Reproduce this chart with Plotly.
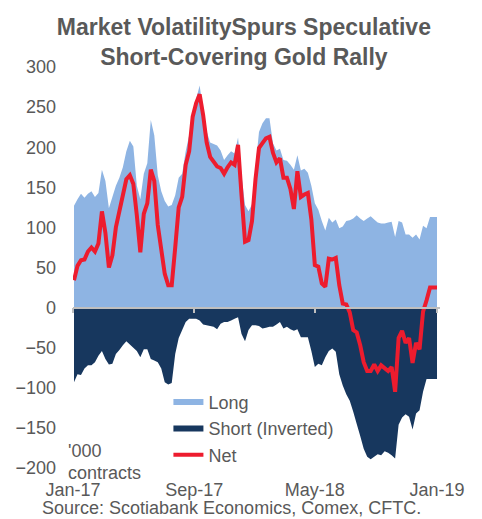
import pandas as pd
import plotly.graph_objects as go

# Weekly CFTC observations (Tuesdays), Jan-2017 .. Jan-2019
dates = pd.date_range("2017-01-03", periods=105, freq="7D")

long_pos = [127, 135, 142, 137, 142, 145, 138, 143, 172, 158,
            124, 138, 152, 162, 175, 195, 208, 201, 152, 135,
            167, 180, 234, 215, 165, 145, 133, 126, 128, 140,
            162, 167, 195, 215, 235, 260, 277, 245, 220, 206,
            204, 202, 196, 184, 190, 195, 192, 212, 165, 128,
            120, 129, 175, 219, 230, 236, 236, 205, 196, 198,
            184, 183, 178, 172, 190, 171, 173, 168, 152, 130,
            122, 108, 96, 112, 106, 110, 99, 101, 108, 109,
            111, 115, 111, 108, 111, 114, 110, 106, 105, 105,
            106, 107, 88, 108, 106, 91, 91, 87, 91, 85,
            102, 99, 113, 113, 113]

short_inv = [-93, -83, -84, -76, -72, -72, -68, -60, -54, -64,
             -71, -70, -58, -53, -47, -42, -46, -50, -54, -62,
             -52, -52, -64, -66, -68, -76, -93, -96, -94, -58,
             -38, -28, -18, -14, -14, -14, -16, -21, -22, -23,
             -24, -27, -20, -18, -18, -16, -14, -12, -33, -42,
             -28, -22, -22, -23, -26, -25, -24, -24, -21, -18,
             -26, -24, -27, -29, -27, -37, -37, -37, -54, -74,
             -70, -72, -62, -54, -51, -55, -83, -97, -108, -116,
             -130, -145, -160, -176, -186, -189, -186, -183, -184, -179,
             -181, -184, -188, -146, -137, -133, -136, -152, -132, -128,
             -105, -89, -89, -89, -89]

net_pos = [34, 52, 59, 60, 70, 75, 70, 80, 120, 93,
           50, 65, 100, 120, 142, 160, 165, 154, 115, 69,
           117, 130, 172, 158, 103, 75, 42, 28, 28, 75,
           125, 138, 178, 195, 238, 255, 266, 240, 206, 188,
           181, 176, 174, 167, 175, 181, 178, 203, 140, 82,
           84, 108, 160, 199, 205, 211, 213, 193, 181, 186,
           162, 162, 148, 123, 170, 138, 141, 143, 110, 53,
           51, 30, 26, 61, 60, 62, 28, 5, 4, -6,
           -28, -31, -47, -68, -79, -79, -71, -79, -72, -76,
           -79, -74, -105, -38, -29, -44, -38, -69, -44, -52,
           -5, 9, 25, 25, 25]

series_names = ["Long", "Short (Inverted)", "Net"]
y_ticks = [-200, -150, -100, -50, 0, 50, 100, 150, 200, 250, 300]

GRAY = "#595959"
FONT = "Liberation Sans, Arial, sans-serif"

fig = go.Figure()
fig.add_trace(go.Scatter(x=dates, y=long_pos, name=series_names[0], mode="none",
                         fill="tozeroy", fillcolor="#8EB4E3"))
fig.add_trace(go.Scatter(x=dates, y=short_inv, name=series_names[1], mode="none",
                         fill="tozeroy", fillcolor="#17375E"))
fig.add_trace(go.Scatter(x=dates, y=net_pos, name=series_names[2], mode="lines",
                         line=dict(color="#ED1C2E", width=4)))
# helper trace so the zero-crossing axis is drawn
fig.add_trace(go.Scatter(x=[], y=[], xaxis="x2", showlegend=False, hoverinfo="skip"))

xrange = ["2017-01-01", "2019-01-07"]
fig.update_layout(
    width=482, height=519,
    margin=dict(l=73, r=42, t=67, b=51),
    paper_bgcolor="white", plot_bgcolor="white",
    font=dict(family=FONT, size=18, color=GRAY),
    title=dict(text="<b>Market VolatilitySpurs Speculative<br>Short-Covering Gold Rally</b>",
               x=0.506, xanchor="center", y=1 - 35 / 519, yanchor="top",
               font=dict(size=23, color=GRAY, family=FONT)),
    xaxis=dict(range=xrange, type="date", tickformat="%b-%y", dtick="M8",
               tick0="2017-01-01", showgrid=False, zeroline=False, showline=False,
               ticks="", ticklabelstandoff=9, tickfont=dict(size=18, color=GRAY)),
    xaxis2=dict(range=xrange, type="date", overlaying="x", anchor="free", position=0.4,
                showline=True, linecolor="#BFBFBF", linewidth=1.5, ticks="outside",
                ticklen=5, tickcolor="#BFBFBF", tickwidth=1.5, dtick="M8",
                tick0="2017-01-01", showticklabels=False, showgrid=False,
                zeroline=False, layer="above traces"),
    yaxis=dict(range=[-200, 300], tickvals=y_ticks, showgrid=False, zeroline=False,
               showline=False, ticks="", ticklabelstandoff=16,
               tickfont=dict(size=18, color=GRAY)),
    legend=dict(x=0.26, y=0.21, xanchor="left", yanchor="top",
                bgcolor="rgba(0,0,0,0)", font=dict(size=18, color=GRAY),
                itemwidth=30, tracegroupgap=0),
    showlegend=True,
)
fig.add_annotation(text="'000", xref="paper", yref="paper", x=-0.019, y=0.043,
                   xanchor="left", yanchor="middle", showarrow=False,
                   font=dict(size=18, color=GRAY))
fig.add_annotation(text="contracts", xref="paper", yref="paper", x=-0.019, y=-0.012,
                   xanchor="left", yanchor="middle", showarrow=False,
                   font=dict(size=18, color=GRAY))
fig.add_annotation(text="Source: Scotiabank Economics, Comex, CFTC.", xref="paper",
                   yref="paper", x=0.432, y=-0.099, xanchor="center", yanchor="middle",
                   showarrow=False, font=dict(size=18, color=GRAY))

fig.write_html("out.html", config={"displayModeBar": False},
               post_script="document.body.style.margin='0';document.body.style.overflow='hidden';")
